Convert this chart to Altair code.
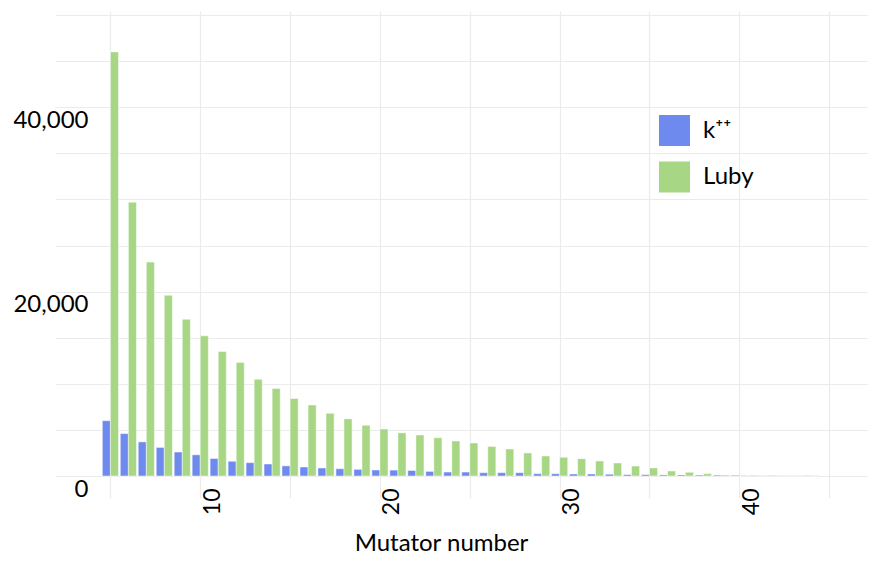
import altair as alt
import pandas as pd

mutators = list(range(5, 45))
kpp = [6000, 4600, 3700, 3100, 2600, 2300, 1900, 1600, 1450, 1300,
       1100, 980, 870, 790, 720, 650, 640, 600, 500, 430,
       430, 360, 360, 360, 250, 250, 220, 220, 200, 150,
       150, 120, 120, 100, 100, 80, 50, 50, 40, 40]
luby = [46000, 29700, 23200, 19600, 17000, 15200, 13500, 12300, 10500, 9500,
        8400, 7700, 6800, 6200, 5500, 5100, 4680, 4450, 4150, 3800,
        3580, 3200, 2930, 2500, 2170, 2030, 1880, 1630, 1410, 1080,
        870, 540, 400, 250, 110, 70, 50, 50, 40, 40]
series = ["k\u207a\u207a", "Luby"]
colors = ["#6F8AEF", "#A7D784"]
x_ticks = [5, 10, 15, 20, 25, 30, 35, 40, 45]
y_ticks = list(range(0, 50001, 5000))

rows = []
for i, m in enumerate(mutators):
    for j, (name, vals) in enumerate(zip(series, [kpp, luby])):
        rows.append({"Mutator": m, "Series": name, "Count": vals[i],
                     "order": j})
df = pd.DataFrame(rows)

GRID = "#EBEBEB"
FONT = "Lato"

bars = alt.Chart(df).transform_calculate(
    x0="datum.Mutator - 0.45 + datum.order * 0.45",
    x1="datum.Mutator + datum.order * 0.45",
).mark_bar(stroke="white", strokeWidth=0.8, strokeOpacity=0.6).encode(
    x=alt.X("x0:Q",
            scale=alt.Scale(domain=[1.917, 47.16], nice=False, zero=False),
            axis=alt.Axis(
                values=x_ticks,
                labelExpr="(datum.value % 10 == 0 && datum.value <= 40) ? datum.label : ''",
                grid=True, gridColor=GRID, gridWidth=1.2,
                domain=False,
                ticks=True, tickSize=22, tickColor=GRID, tickWidth=1.2,
                labelAngle=270, labelAlign="right", labelBaseline="middle",
                labelPadding=-10, labelOffset=12,
                labelFont=FONT, labelFontSize=23, labelColor="black",
                title="Mutator number", titleFont=FONT, titleFontSize=24,
                titleFontWeight="normal", titleColor="black",
                titleX=386, titleY=74, titleAlign="center",
                titleBaseline="alphabetic", titleAnchor="start",
                labelOverlap=False,
            )),
    x2="x1:Q",
    y=alt.Y("Count:Q",
            scale=alt.Scale(domain=[0, 50434], nice=False),
            axis=alt.Axis(
                values=y_ticks,
                labelExpr="datum.value % 20000 == 0 ? format(datum.value, ',') : ''",
                grid=True, gridColor=GRID, gridWidth=1.2,
                domain=False, ticks=False,
                labelAlign="right", labelBaseline="middle",
                labelPadding=-33, labelOffset=13,
                labelFont=FONT, labelFontSize=24, labelColor="black",
                title=None, labelOverlap=False,
            )),
    y2=alt.datum(0),
    color=alt.Color("Series:N",
                    scale=alt.Scale(domain=series, range=colors),
                    legend=alt.Legend(
                        title=None, orient="none", legendX=604, legendY=104,
                        symbolType="square", symbolSize=961,
                        symbolStrokeWidth=0, symbolOpacity=1,
                        labelFont=FONT, labelFontSize=24, labelColor="black",
                        labelOffset=13, rowPadding=15.5, padding=0,
                    )),
    order=alt.Order("order:Q"),
)

chart = bars.properties(
    width=813, height=465,
    autosize=alt.AutoSizeParams(type="none"),
    padding={"left": 47, "top": 3, "right": 0, "bottom": 79},
    background="white",
).configure_view(stroke=None)

chart.save("out.html", embed_options={"renderer": "svg", "actions": False})
